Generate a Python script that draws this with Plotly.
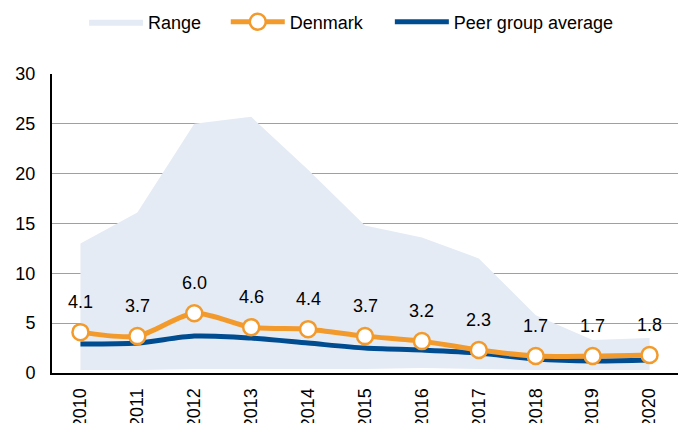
import plotly.graph_objects as go

# Data
years = ["2010", "2011", "2012", "2013", "2014", "2015", "2016", "2017", "2018", "2019", "2020"]
range_low = [0.3, 0.3, 0.4, 0.4, 0.4, 0.4, 0.5, 0.4, 0.3, 0.3, 0.3]
range_high = [13.0, 16.1, 25.0, 25.7, 20.4, 14.8, 13.6, 11.5, 5.8, 3.3, 3.5]
denmark = [4.1, 3.7, 6.0, 4.6, 4.4, 3.7, 3.2, 2.3, 1.7, 1.7, 1.8]
peer_avg = [2.9, 3.0, 3.7, 3.5, 3.0, 2.5, 2.3, 2.0, 1.4, 1.2, 1.3]

colors = {
    'range': '#E4EBF4',
    'orange': '#F39A2C',
    'blue': '#004C91',
    'grid': '#A0A0A0',
    'text': '#000000',
}
font_family = "Liberation Sans, Arial, sans-serif"

fig = go.Figure()

# Range band: invisible lower edge, then upper edge filled down to it
fig.add_trace(go.Scatter(
    x=years, y=range_low, mode='lines',
    line=dict(width=0, color=colors['range']),
    showlegend=False, hoverinfo='skip'
))
fig.add_trace(go.Scatter(
    x=years, y=range_high, mode='lines', name='Range',
    line=dict(width=0, color=colors['range']),
    fill='tonexty', fillcolor=colors['range'],
    legend='legend'
))

fig.add_trace(go.Scatter(
    x=years, y=peer_avg, mode='lines', name='Peer group average',
    line=dict(color=colors['blue'], width=5, shape='spline', smoothing=0.8),
    legend='legend3'
))

fig.add_trace(go.Scatter(
    x=years, y=denmark, mode='lines+markers', name='Denmark',
    line=dict(color=colors['orange'], width=5, shape='spline', smoothing=0.8),
    marker=dict(size=16, color='white', line=dict(color=colors['orange'], width=2.5)),
    legend='legend2'
))

# Value labels above Denmark points (x as category index)
for i, v in enumerate(denmark):
    fig.add_annotation(
        x=i, y=v, text=f"{v:.1f}", showarrow=False, yshift=30,
        font=dict(size=18, color=colors['text'], family=font_family)
    )

# one small legend per entry so the spacing can follow the reference
def legend_at(x):
    return dict(
        orientation='h', xref='container', yref='container',
        x=x, y=0.948, xanchor='left', yanchor='middle',
        font=dict(size=18), itemwidth=54, bgcolor='rgba(0,0,0,0)'
    )

fig.update_layout(
    width=678, height=423,
    margin=dict(l=52, r=0, t=74, b=50),
    plot_bgcolor='white', paper_bgcolor='white',
    font=dict(family=font_family, size=18, color=colors['text']),
    legend=legend_at(0.124),
    legend2=legend_at(0.333),
    legend3=legend_at(0.575),
)

fig.update_xaxes(
    type='category', range=[-0.5, 10.5],
    showline=True, linecolor='black', linewidth=2,
    showgrid=False, tickangle=-90, ticks='',
    ticklabelstandoff=6, automargin=False,
    tickfont=dict(size=18)
)
fig.update_yaxes(
    range=[0, 30], dtick=5,
    showline=True, linecolor='black', linewidth=2,
    showgrid=True, gridcolor=colors['grid'], gridwidth=1,
    ticks='', ticklabelstandoff=11, automargin=False, zeroline=False,
    tickfont=dict(size=18)
)

# drop the default page margin so the figure sits at the window's corner
fig.write_html(
    "out.html",
    config={'displayModeBar': False},
    post_script="document.body.style.margin='0';"
)
